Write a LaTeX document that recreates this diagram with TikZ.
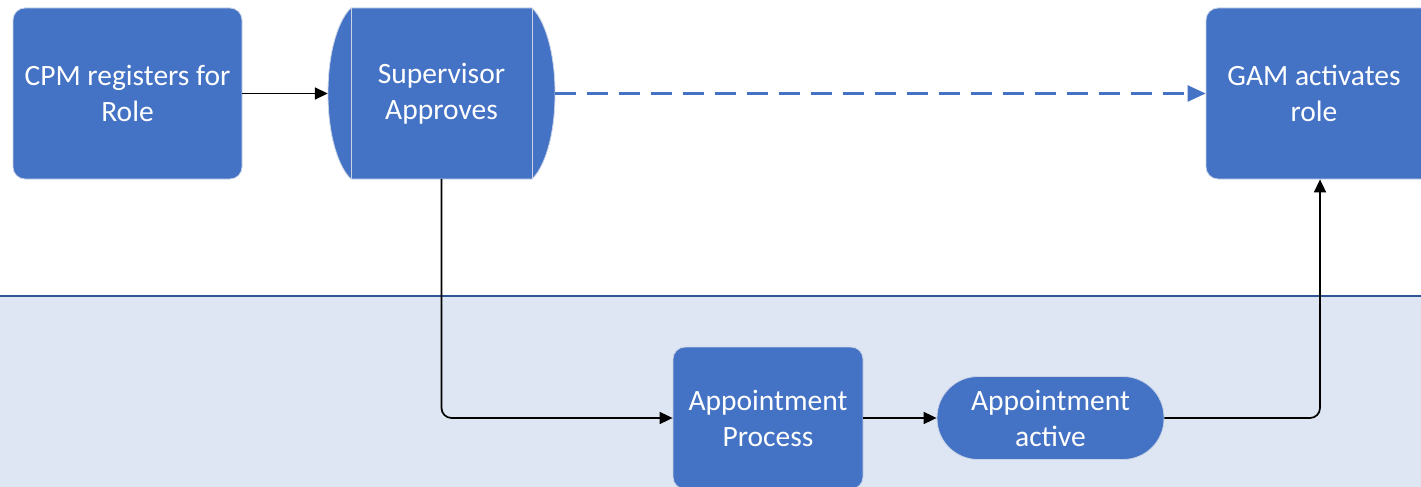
\documentclass[tikz,border=0pt]{standalone}
\usepackage{fontspec}
\setmainfont{Carlito}
\usetikzlibrary{arrows.meta}
\definecolor{boxblue}{HTML}{4472C4}
\definecolor{boxedge}{HTML}{C9D3E6}
\definecolor{bandfill}{HTML}{DFE6F3}
\definecolor{bandline}{HTML}{2F5597}
\tikzset{
  box/.style={fill=boxblue, draw=boxedge, line width=0.8pt, rounded corners=12pt,
    text=white, align=center, font=\fontsize{29.5}{36}\selectfont, inner sep=0pt},
  plainbox/.style={text=white, align=center, font=\fontsize{29.5}{36}\selectfont, inner sep=0pt},
  conn/.style={draw=black, line width=1.7pt, -{Triangle[length=13pt,width=12pt]}},
  dashconn/.style={draw=boxblue, line width=2.4pt, dash pattern=on 21pt off 11pt,
    -{Triangle[length=18pt,width=16pt]}}
}
\begin{document}
\begin{tikzpicture}[x=1pt,y=-1pt]
\useasboundingbox (0,0) rectangle (1421,487);
\clip (0,0) rectangle (1421,487);
% swimlane band
\fill[bandfill] (0,296) rectangle (1421,487);
\draw[bandline, line width=1.6pt] (0,296) -- (1421,296);
% nodes
\node[box, minimum width=229pt, minimum height=171pt] (cpm) at (127.5,93.5) {CPM registers for\\Role};
% supervisor shape
\fill[boxblue, draw=boxedge, line width=0.8pt]
  (351,8) -- (532,8)
  .. controls (543,18) and (555,48) .. (555,93.5)
  .. controls (555,139) and (543,169) .. (532,179)
  -- (351,179)
  .. controls (340,169) and (328,139) .. (328,93.5)
  .. controls (328,48) and (340,18) .. (351,8) -- cycle;
\draw[boxedge, line width=1pt] (351,8) -- (351,179) (532,8) -- (532,179);
\node[plainbox, minimum width=227pt, minimum height=171pt] (sup) at (441.5,93.5) {Supervisor\\Approves};
\node[box, minimum width=240pt, minimum height=171pt] (gam) at (1326,93.5) {};
\node[plainbox] (gamtext) at (1314,93.5) {GAM activates\\role};
\node[box, minimum width=190pt, minimum height=142pt] (ap) at (768,418) {Appointment\\Process};
\node[box, rounded corners=41pt, minimum width=227pt, minimum height=83pt] (act) at (1050.5,418) {Appointment\\active};
% connectors
\draw[conn] (cpm.east) -- (sup.west);
\draw[dashconn] (sup.east) -- (gam.west);
\draw[conn, rounded corners=10pt] (sup.south) |- (ap.west);
\draw[conn] (ap.east) -- (act.west);
\draw[conn, rounded corners=10pt] (act.east) -| ([xshift=-6pt]gam.south);
\end{tikzpicture}
\end{document}
